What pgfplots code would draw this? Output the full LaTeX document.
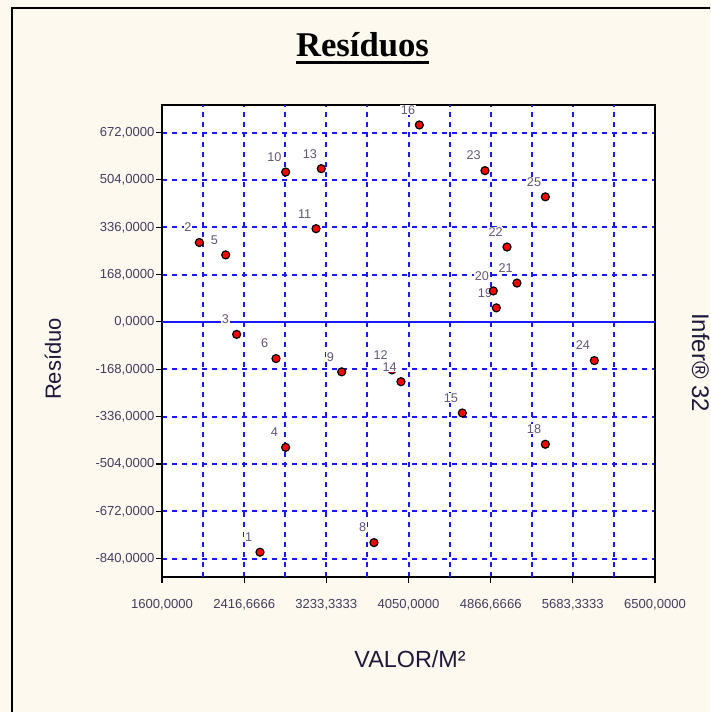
\documentclass[border=0pt]{standalone}
\usepackage{fontspec}
\setmainfont{Liberation Sans}
\newfontfamily\titlefont{Liberation Serif}
\usepackage{pgfplots}
\usepackage{pgfplotstable}
\pgfplotsset{compat=1.18}
\definecolor{bgcream}{RGB}{253,249,238}
\definecolor{gridblue}{RGB}{25,25,255}
\definecolor{ticklab}{RGB}{70,60,95}
\definecolor{ptlab}{RGB}{100,85,115}
\definecolor{labcol}{RGB}{30,25,60}

\pgfplotstableread{
x y lbl
2574 -817 1
1971 282 2
2342 -44 3
2829 -445 4
2233 238 5
2733 -130 6
3707 -783 8
3386 -177 9
2829 532 10
3131 331 11
3886 -170 12
3183 544 13
3975 -212 14
4585 -323 15
4158 699 16
5410 -434 18
4923 50 19
4893 110 20
5128 138 21
5029 266 22
4810 537 23
5897 -137 24
5410 444 25
}\resid

\tikzset{gridline/.style={gridblue, line width=1.5pt, dash pattern=on 3.75pt off 3.75pt}}

\begin{document}
\begin{tikzpicture}
\path[use as bounding box] (0,0) rectangle (532.5pt,534pt);
\clip (0,0) rectangle (532.5pt,534pt);
\fill[bgcream] (0,0) rectangle (532.5pt,534pt);
\begin{axis}[
  at={(121.5pt,101.25pt)}, anchor=south west,
  scale only axis, width=369.75pt, height=354pt,
  xmin=1600, xmax=6500, ymin=-905, ymax=770,
  axis background/.style={fill=white},
  axis line style={black, line width=1pt},
  xtick={1600,2416.6666,3233.3333,4050,4866.6666,5683.3333,6500},
  xticklabels={{1600,0000},{2416,6666},{3233,3333},{4050,0000},{4866,6666},{5683,3333},{6500,0000}},
  ytick={-840,-672,-504,-336,-168,0,168,336,504,672},
  yticklabels={{-840,0000},{-672,0000},{-504,0000},{-336,0000},{-168,0000},{0,0000},{168,0000},{336,0000},{504,0000},{672,0000}},
  tick align=outside, tick pos=left,
  major tick length=4.5pt,
  tick style={black, line width=0.8pt},
  xmajorgrids, ymajorgrids,
  grid style={gridline},
  ticklabel style={font=\fontsize{9.8}{10}\selectfont, text=ticklab, inner sep=0pt},
  xticklabel style={yshift=-12pt},
  yticklabel style={xshift=-1pt},
]
\addplot[gridline, forget plot] coordinates {(2008.3333,-905) (2008.3333,770)};
\addplot[gridline, forget plot] coordinates {(2825,-905) (2825,770)};
\addplot[gridline, forget plot] coordinates {(3641.6666,-905) (3641.6666,770)};
\addplot[gridline, forget plot] coordinates {(4458.3333,-905) (4458.3333,770)};
\addplot[gridline, forget plot] coordinates {(5275,-905) (5275,770)};
\addplot[gridline, forget plot] coordinates {(6091.6666,-905) (6091.6666,770)};
\addplot[gridblue, line width=1.5pt, forget plot] coordinates {(1600,0) (6500,0)};
\addplot[only marks, mark=*, mark size=3pt,
  mark options={fill=red, draw=black, line width=0.9pt},
  point meta=explicit symbolic, nodes near coords,
  nodes near coords style={font=\fontsize{9.5}{9.5}\selectfont, text=ptlab, fill=white,
    inner sep=0.5pt, anchor=center, xshift=-8.5pt, yshift=11.25pt}]
  table[x=x, y=y, meta=lbl] {\resid};
\end{axis}
\begin{scope}[x=0.75pt, y=-0.75pt, yshift=534pt]
\draw[black, line width=1.5pt] (12,715) -- (12,8) -- (715,8);
\node[font=\titlefont\bfseries\fontsize{26}{26}\selectfont, inner sep=0pt, anchor=base] (t) at (362.5,57) {Resíduos};
\draw[line width=2.2pt] ([yshift=-4.3pt]t.base west) -- ([yshift=-4.3pt]t.base east);
\node[font=\fontsize{16.5}{16.5}\selectfont, text=labcol, rotate=90, inner sep=0pt] at (53,359) {Resíduo};
\node[font=\fontsize{17.5}{17.5}\selectfont, text=labcol, inner sep=0pt] at (410,659) {VALOR/M²};
\node[font=\fontsize{18}{18}\selectfont, text=labcol, rotate=-90, anchor=base west, inner sep=0pt] at (692,313) {Infer® 32};
\end{scope}
\end{tikzpicture}
\end{document}
